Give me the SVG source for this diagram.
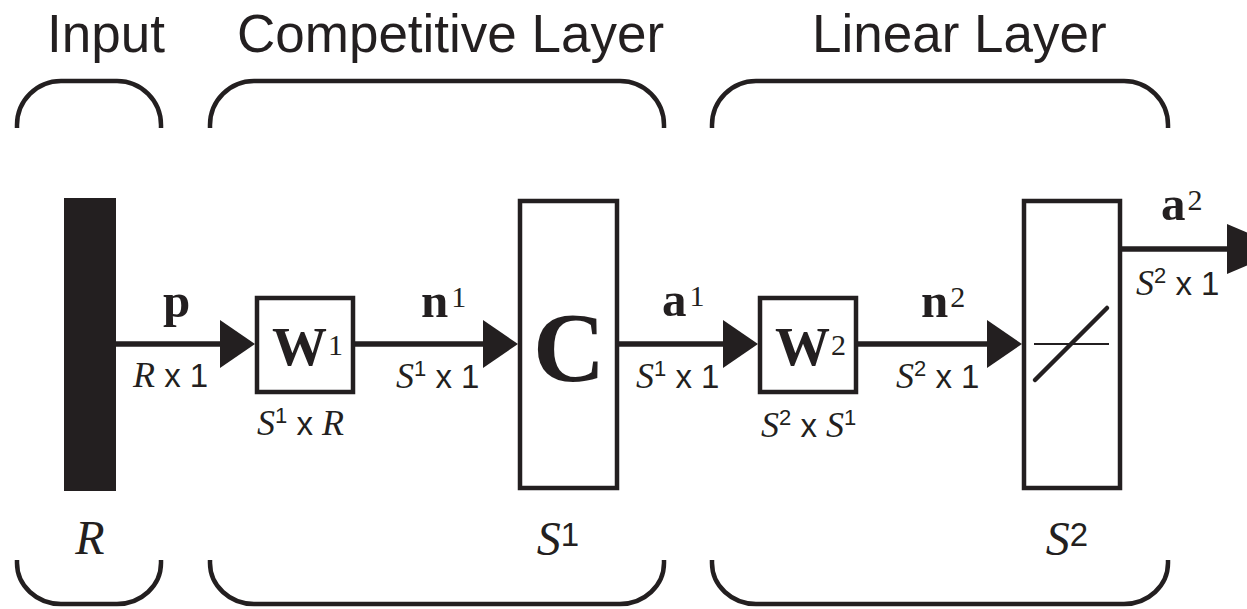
<svg xmlns="http://www.w3.org/2000/svg" width="1247" height="609" viewBox="0 0 1247 609">
  <style>
    .title { font-family: "Liberation Sans", Arial, sans-serif; font-size: 53px; fill: #231f20; }
    .bracket { fill: none; stroke: #231f20; stroke-width: 4.5; }
    .box { fill: #ffffff; stroke: #231f20; stroke-width: 4.5; }
    .wire { fill: none; stroke: #231f20; stroke-width: 5.5; }
    .head { fill: #231f20; }
    .bold { font-family: "Liberation Serif", "Times New Roman", serif; font-weight: bold; fill: #231f20; }
    .vec { font-size: 49px; }
    .wt { font-size: 55px; }
    .rsup { font-family: "Liberation Serif", "Times New Roman", serif; font-weight: normal; font-size: 30px; }
    .dim { font-family: "Liberation Sans", Arial, sans-serif; font-size: 33px; fill: #231f20; }
    .it { font-family: "Liberation Serif", "Times New Roman", serif; font-style: italic; font-size: 36px; }
    .ssup { font-family: "Liberation Sans", Arial, sans-serif; font-size: 22px; }
    .big { font-family: "Liberation Serif", "Times New Roman", serif; font-style: italic; font-size: 48px; fill: #231f20; }
    .bsup { font-family: "Liberation Sans", Arial, sans-serif; font-style: normal; font-size: 33px; }
  </style>

  <!-- layer titles -->
  <g id="titles">
    <text class="title" x="47" y="52">Input</text>
    <text class="title" x="237" y="52">Competitive Layer</text>
    <text class="title" x="812" y="52">Linear Layer</text>
  </g>

  <!-- grouping brackets above and below each layer -->
  <g id="brackets">
    <path class="bracket" d="M17,128 V125 A44,44 0 0 1 61,81 H117 A44,44 0 0 1 161,125 V128"/>
    <path class="bracket" d="M210,128 V125 A44,44 0 0 1 254,81 H620 A44,44 0 0 1 664,125 V128"/>
    <path class="bracket" d="M712,128 V125 A44,44 0 0 1 756,81 H1124 A44,44 0 0 1 1168,125 V128"/>
    <path class="bracket" d="M17,560 V563 A44,41 0 0 0 61,604 H117 A44,41 0 0 0 161,563 V560"/>
    <path class="bracket" d="M210,560 V563 A44,41 0 0 0 254,604 H620 A44,41 0 0 0 664,563 V560"/>
    <path class="bracket" d="M712,560 V563 A44,41 0 0 0 756,604 H1124 A44,41 0 0 0 1168,563 V560"/>
  </g>

  <!-- signal connectors -->
  <g id="connectors">
    <line class="wire" x1="116" y1="344" x2="222" y2="344"/>
    <polygon class="head" points="220,320 255,344 220,368"/>
    <line class="wire" x1="355" y1="344" x2="485" y2="344"/>
    <polygon class="head" points="483,320 518,344 483,368"/>
    <line class="wire" x1="619" y1="344" x2="725" y2="344"/>
    <polygon class="head" points="723,320 758,344 723,368"/>
    <line class="wire" x1="858" y1="344" x2="989" y2="344"/>
    <polygon class="head" points="987,320 1022,344 987,368"/>
    <line class="wire" x1="1122" y1="249" x2="1229" y2="249"/>
    <polygon class="head" points="1227,224 1285,249 1227,274"/>
  </g>

  <!-- input vector -->
  <g id="input">
    <rect x="64" y="198" width="52" height="293" fill="#231f20"/>
    <text class="big" x="90" y="554" text-anchor="middle">R</text>
  </g>

  <!-- competitive layer weights -->
  <g id="weights1">
    <rect class="box" x="257" y="298" width="96" height="94"/>
    <text class="bold wt" x="272" y="365">W<tspan class="rsup" dx="1" dy="-10">1</tspan></text>
    <text class="dim" x="257" y="435"><tspan class="it">S</tspan><tspan class="ssup" dy="-12">1</tspan><tspan dy="12"> x </tspan><tspan class="it">R</tspan></text>
  </g>

  <!-- competitive transfer function -->
  <g id="compet">
    <rect class="box" x="520" y="201" width="97" height="287"/>
    <text class="bold" x="569" y="381" font-size="100" text-anchor="middle">C</text>
    <text class="big" x="558" y="555" text-anchor="middle">S<tspan class="bsup" dy="-9">1</tspan></text>
  </g>

  <!-- linear layer weights -->
  <g id="weights2">
    <rect class="box" x="760" y="298" width="96" height="94"/>
    <text class="bold wt" x="775" y="365">W<tspan class="rsup" dx="1" dy="-10">2</tspan></text>
    <text class="dim" x="761" y="437"><tspan class="it">S</tspan><tspan class="ssup" dy="-12">2</tspan><tspan dy="12"> x </tspan><tspan class="it">S</tspan><tspan class="ssup" dy="-12">1</tspan></text>
  </g>

  <!-- linear transfer function -->
  <g id="purelin">
    <rect class="box" x="1024" y="201" width="96" height="287"/>
    <line x1="1034" y1="344" x2="1109" y2="344" stroke="#231f20" stroke-width="2"/>
    <line x1="1035" y1="380" x2="1107" y2="308" stroke="#231f20" stroke-width="4.5" stroke-linecap="round"/>
    <text class="big" x="1067" y="555" text-anchor="middle">S<tspan class="bsup" dy="-9">2</tspan></text>
  </g>

  <!-- connector labels -->
  <g id="labels">
    <text class="bold vec" x="163" y="317">p</text>
    <text class="dim" x="133" y="387"><tspan class="it">R</tspan> x 1</text>

    <text class="bold vec" x="421" y="317">n<tspan class="rsup" dx="3" dy="-10">1</tspan></text>
    <text class="dim" x="396" y="388"><tspan class="it">S</tspan><tspan class="ssup" dy="-12">1</tspan><tspan dy="12"> x 1</tspan></text>

    <text class="bold vec" x="662" y="316">a<tspan class="rsup" dx="3" dy="-10">1</tspan></text>
    <text class="dim" x="636" y="388"><tspan class="it">S</tspan><tspan class="ssup" dy="-12">1</tspan><tspan dy="12"> x 1</tspan></text>

    <text class="bold vec" x="921" y="317">n<tspan class="rsup" dx="2" dy="-10">2</tspan></text>
    <text class="dim" x="896" y="388"><tspan class="it">S</tspan><tspan class="ssup" dy="-12">2</tspan><tspan dy="12"> x 1</tspan></text>

    <text class="bold vec" x="1161" y="220">a<tspan class="rsup" dx="2" dy="-10">2</tspan></text>
    <text class="dim" x="1136" y="295"><tspan class="it">S</tspan><tspan class="ssup" dy="-12">2</tspan><tspan dy="12"> x 1</tspan></text>
  </g>
</svg>
